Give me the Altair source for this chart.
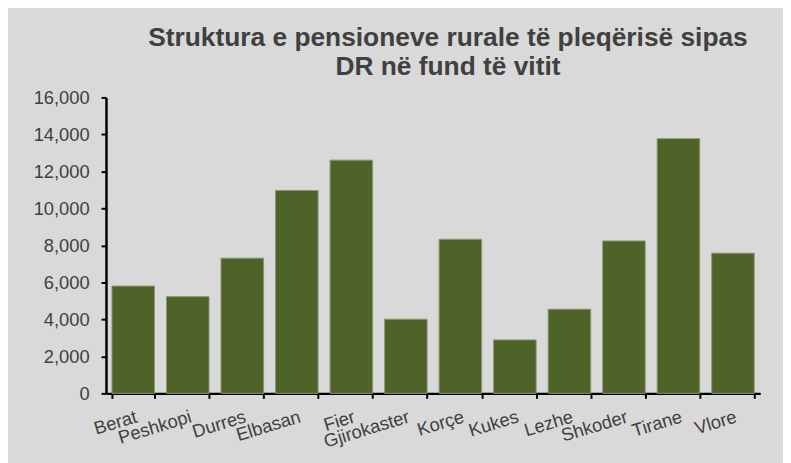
import altair as alt
import pandas as pd

regions = ["Berat", "Peshkopi", "Durres", "Elbasan", "Fier", "Gjirokaster",
           "Korçe", "Kukes", "Lezhe", "Shkoder", "Tirane", "Vlore"]
values = [5800, 5230, 7310, 10970, 12610, 4010, 8330, 2890, 4550, 8240, 13770, 7580]
y_ticks = [0, 2000, 4000, 6000, 8000, 10000, 12000, 14000, 16000]

df = pd.DataFrame({"region": regions, "value": values})

FONT = "Liberation Sans"

chart = alt.Chart(df).mark_bar(
    color="#4F6228", stroke="#8a9670", strokeWidth=1
).encode(
    x=alt.X("region:N", sort=regions, title=None,
            scale=alt.Scale(paddingInner=0.22, paddingOuter=0.11),
            axis=alt.Axis(labelAngle=-17, labelAlign="right", labelBaseline="top",
                          tickBand="extent", tickSize=5, tickWidth=2,
                          domainWidth=2.5, domainColor="black", tickColor="black",
                          labelPadding=9, labelFontSize=18.5, labelColor="#404040",
                          labelFont=FONT)),
    y=alt.Y("value:Q", title=None,
            scale=alt.Scale(domain=[0, 16000], nice=False),
            axis=alt.Axis(values=y_ticks, format=",.0f",
                          grid=False, tickSize=5, tickWidth=2, domainWidth=2.5,
                          domainColor="black", tickColor="black",
                          labelPadding=12, labelFontSize=18.5, labelColor="#404040",
                          labelFont=FONT)),
).properties(
    width=661, height=299,
    title=alt.TitleParams(
        text=["Struktura e pensioneve rurale të pleqërisë sipas", "DR në fund të vitit"],
        font=FONT, fontSize=26.6, fontWeight="bold", color="#404040",
        anchor="middle", dx=15, offset=8, lineHeight=29),
    background="#d9d9d9",
    autosize=alt.AutoSizeParams(type="none"),
    padding={"left": 99, "top": 88, "right": 23, "bottom": 68},
).configure_view(stroke=None)

chart.save("out.html", embed_options={"renderer": "svg", "actions": False})
